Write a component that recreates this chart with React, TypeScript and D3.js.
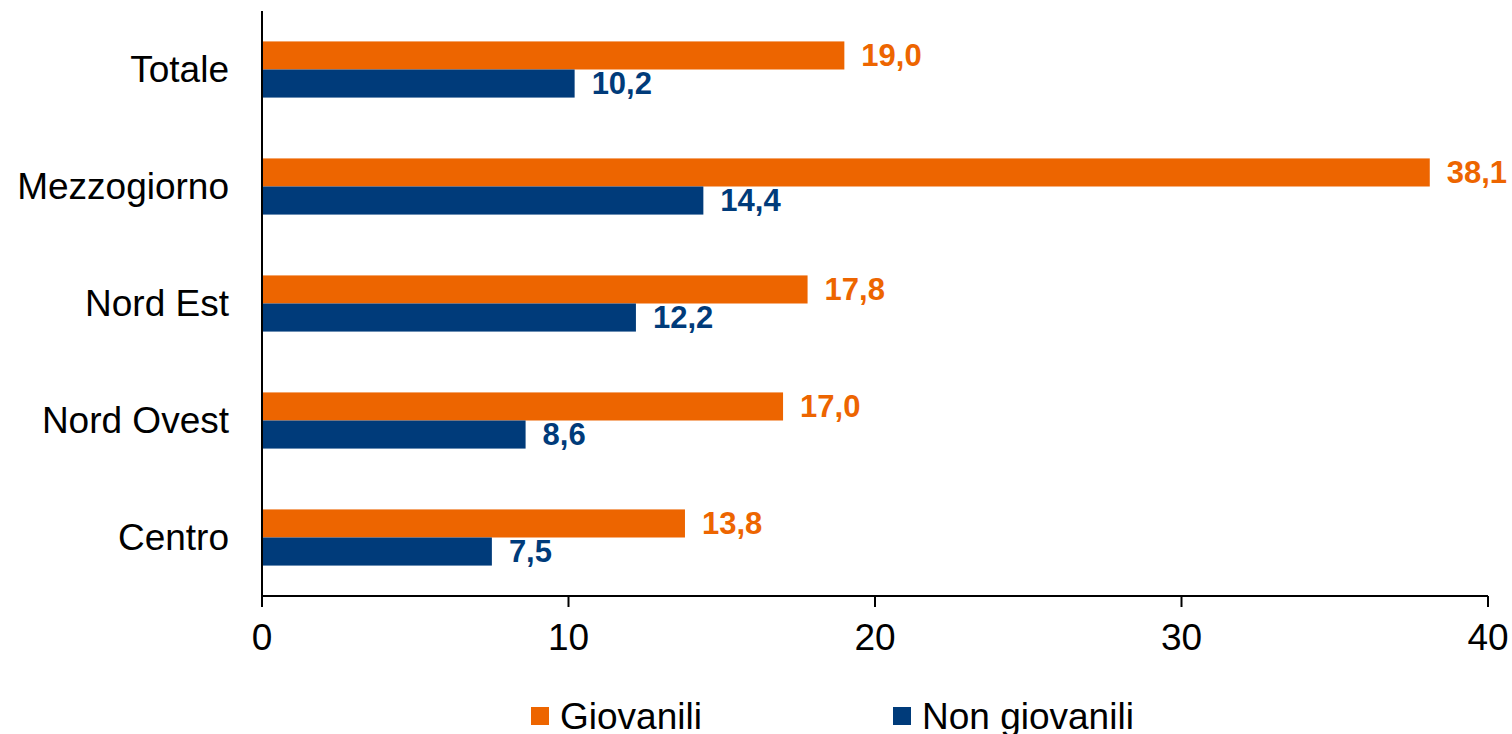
import React from "react";
import * as d3 from "d3";

const categories = ["Totale", "Mezzogiorno", "Nord Est", "Nord Ovest", "Centro"];
const giovanili = [19.0, 38.1, 17.8, 17.0, 13.8];
const nonGiovanili = [10.2, 14.4, 12.2, 8.6, 7.5];
const seriesNames = ["Giovanili", "Non giovanili"];
const seriesColors = ["#ED6500", "#003B7A"];
const xTicks = [0, 10, 20, 30, 40];

const W = 1512;
const H = 734;
const FONT = "'Liberation Sans', Arial, sans-serif";

export default function App() {
  const x = d3.scaleLinear().domain([0, 40]).range([262, 1488]);
  const y = d3
    .scaleBand<string>()
    .domain(categories)
    .range([11, 596])
    .paddingInner(0.52)
    .paddingOuter(0.26);
  const sub = d3
    .scaleBand<string>()
    .domain(seriesNames)
    .range([0, y.bandwidth()]);
  const series = [giovanili, nonGiovanili];
  const fmt = (v: number) => d3.format(".1f")(v).replace(".", ",");
  const axisY = 596;

  return (
    <svg
      width={W}
      height={H}
      style={{ position: "absolute", left: 0, top: 0, background: "#fff" }}
      fontFamily={FONT}
    >
      {categories.map((c, i) => (
        <g key={c}>
          {series.map((s, j) => {
            const y0 = (y(c) as number) + (sub(seriesNames[j]) as number);
            return (
              <g key={j}>
                <rect
                  x={x(0)}
                  y={y0}
                  width={x(s[i]) - x(0)}
                  height={sub.bandwidth()}
                  fill={seriesColors[j]}
                />
                <text
                  x={x(s[i]) + 17}
                  y={y0 + sub.bandwidth() / 2}
                  dy="0.35em"
                  fontSize={31}
                  fontWeight="bold"
                  fill={seriesColors[j]}
                >
                  {fmt(s[i])}
                </text>
              </g>
            );
          })}
          <text
            x={229}
            y={(y(c) as number) + y.bandwidth() / 2}
            dy="0.35em"
            textAnchor="end"
            fontSize={37}
            fill="#000"
          >
            {c}
          </text>
        </g>
      ))}
      {/* y axis */}
      <line x1={x(0)} x2={x(0)} y1={11} y2={axisY + 11} stroke="#000" strokeWidth={2} />
      {/* x axis */}
      <line x1={x(0)} x2={x(40)} y1={axisY} y2={axisY} stroke="#000" strokeWidth={2} />
      {xTicks.map((t) => (
        <g key={t}>
          <line x1={x(t)} x2={x(t)} y1={axisY} y2={axisY + 11} stroke="#000" strokeWidth={2} />
          <text x={x(t)} y={637} dy="0.35em" textAnchor="middle" fontSize={37} fill="#000">
            {t}
          </text>
        </g>
      ))}
      {/* legend */}
      {seriesNames.map((n, j) => {
        const lx = j === 0 ? 531 : 893;
        return (
          <g key={n}>
            <rect x={lx} y={707} width={18} height={18} fill={seriesColors[j]} />
            <text x={lx + 29} y={716} dy="0.35em" fontSize={37} fill="#000">
              {n}
            </text>
          </g>
        );
      })}
    </svg>
  );
}
